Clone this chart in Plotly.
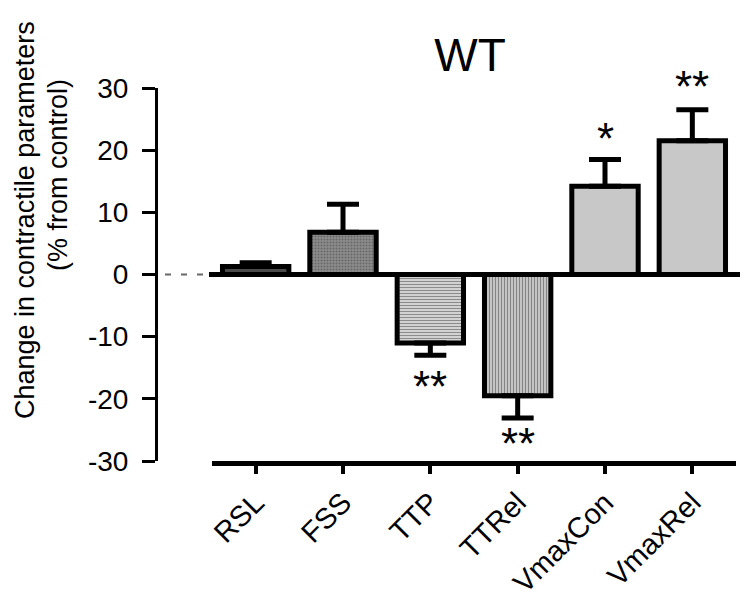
import plotly.graph_objects as go

categories = ["RSL", "FSS", "TTP", "TTRel", "VmaxCon", "VmaxRel"]
values = [1.3, 6.8, -11.0, -19.5, 14.2, 21.5]
errors = [0.6, 4.5, 2.0, 3.6, 4.3, 5.0]
stars = ["", "", "**", "**", "*", "**"]
star_y = [None, None, -17.8, -27.0, 22.0, 30.4]
y_ticks = [-30, -20, -10, 0, 10, 20, 30]
y_tick_text = ["-30", "-20", "-10", "0", "10", "20", "30"]

fill_colors = ["#4a4a4a", "#8c8c8c", "#d2d2d2", "#c4c4c4", "#c8c8c8", "#c8c8c8"]
pattern_shapes = ["", ".", "-", "|", "", ""]
pattern_fg = ["#4a4a4a", "#6c6c6c", "#b4b4b4", "#a8a8a8", "#c8c8c8", "#c8c8c8"]

FONT = "Arial, 'Liberation Sans', sans-serif"
Y_MIN, Y_MAX = -30, 30

err_plus = [e if v >= 0 else 0 for v, e in zip(values, errors)]
err_minus = [e if v < 0 else 0 for v, e in zip(values, errors)]

fig = go.Figure()
fig.add_trace(go.Bar(
    x=categories, y=values, width=0.76,
    marker=dict(color=fill_colors, line=dict(color="black", width=5),
                pattern=dict(shape=pattern_shapes, fgcolor=pattern_fg, size=3, solidity=0.35)),
    error_y=dict(type="data", symmetric=False, array=err_plus, arrayminus=err_minus,
                 color="black", thickness=5, width=16),
    showlegend=False,
))

L, R, T, B = 148, 0, 80, 147
W, H = 748, 600
pw = W - L - R
ph = H - T - B

def px_to_paper_x(px):
    return (px - L) / pw

def px_to_paper_y(py):
    return (H - B - py) / ph

def val_to_paper_y(v):
    return (v - Y_MIN) / (Y_MAX - Y_MIN)

annotations = []
for c, s, yv in zip(categories, stars, star_y):
    if s:
        annotations.append(dict(x=c, y=val_to_paper_y(yv), xref="x", yref="paper", text=s,
                                showarrow=False, font=dict(family=FONT, size=44, color="black"),
                                xanchor="center", yanchor="middle", yshift=-1))

annotations.append(dict(x=px_to_paper_x(1), y=px_to_paper_y(212), xref="paper", yref="paper",
                        text="Change in contractile parameters", textangle=-90, showarrow=False,
                        font=dict(family=FONT, size=27, color="black"), xanchor="left", yanchor="middle",
                        borderpad=0))
annotations.append(dict(x=px_to_paper_x(34), y=px_to_paper_y(167), xref="paper", yref="paper",
                        text="(% from control)", textangle=-90, showarrow=False,
                        font=dict(family=FONT, size=27, color="black"), xanchor="left", yanchor="middle",
                        borderpad=0))

shapes = [
    dict(type="line", xref="paper", yref="paper", x0=px_to_paper_x(201), x1=1.0,
         y0=val_to_paper_y(0), y1=val_to_paper_y(0),
         line=dict(color="black", width=5), layer="below"),
    dict(type="line", xref="paper", yref="paper", x0=px_to_paper_x(157), x1=px_to_paper_x(200),
         y0=val_to_paper_y(0), y1=val_to_paper_y(0),
         line=dict(color="#666666", width=2, dash="6px,10px")),
]

fig.update_layout(
    width=W, height=H,
    margin=dict(l=L, r=R, t=T, b=B),
    paper_bgcolor="white", plot_bgcolor="white",
    font=dict(family=FONT, color="black"),
    title=dict(text="WT", x=462 / W, y=1 - 47 / H, xanchor="center", yanchor="middle",
               font=dict(family=FONT, size=46, color="black")),
    xaxis=dict(domain=[px_to_paper_x(204), px_to_paper_x(728)], range=[-0.5, 5.5],
               showline=True, linecolor="black", linewidth=5, ticks="outside", ticklen=8,
               tickwidth=4, tickcolor="black", tickangle=-45, tickfont=dict(size=29),
               showgrid=False, zeroline=False),
    yaxis=dict(range=[Y_MIN, Y_MAX], anchor="free", position=0, tickvals=y_ticks,
               ticktext=y_tick_text, ticklabelstandoff=8,
               showline=True, linecolor="black", linewidth=3, ticks="outside", ticklen=13,
               tickwidth=3, tickcolor="black", tickfont=dict(size=28),
               showgrid=False, zeroline=False),
    annotations=annotations,
    shapes=shapes,
)

fig.write_html("out.html")
